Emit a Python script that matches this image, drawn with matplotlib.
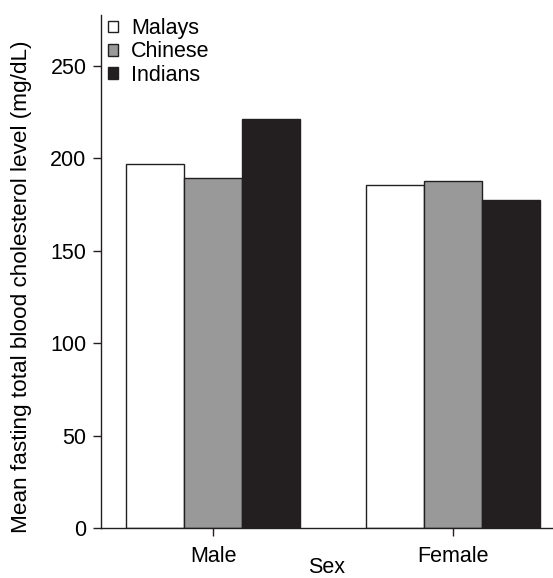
import numpy as np
import matplotlib
matplotlib.use('Agg')
import matplotlib.pyplot as plt

plt.rcParams['font.family'] = ['Liberation Sans', 'DejaVu Sans']

sexes = ['Male', 'Female']
groups = ['Malays', 'Chinese', 'Indians']
malays = [197, 185.5]
chinese = [189.5, 188]
indians = [221.5, 177.5]
colors = ['white', '#999999', '#231f20']
ecol = '#231f20'
fs = 15.5

fig = plt.figure(figsize=(5.53, 5.78), dpi=100)
ax = fig.add_axes([0.1826, 0.086, 0.8174, 0.888])

x = np.arange(len(sexes))
w = 0.242
for i, (name, vals) in enumerate(zip(groups, [malays, chinese, indians])):
    ax.bar(x + (i - 1) * w, vals, width=w, color=colors[i], edgecolor=ecol,
           linewidth=1.0, label=name)

ax.set_xlim(-0.468, 1.417)
ax.set_ylim(0, 277.5)
ax.set_yticks([0, 50, 100, 150, 200, 250])
ax.set_xticks(x)
ax.set_xticklabels(sexes)
ax.spines['top'].set_visible(False)
ax.spines['right'].set_visible(False)
for s in ['left', 'bottom']:
    ax.spines[s].set_color(ecol)
    ax.spines[s].set_linewidth(1.0)
ax.tick_params(direction='out', width=1, color=ecol, labelsize=fs)
ax.tick_params(axis='x', length=6, pad=7)
ax.tick_params(axis='y', length=5.5, pad=5)
ax.set_xlabel('Sex', fontsize=fs, labelpad=-7.5)
ax.set_ylabel('Mean fasting total blood cholesterol level (mg/dL)', fontsize=16.2)
ax.yaxis.set_label_coords(-0.152, 0.47)

leg = ax.legend(loc='upper left', bbox_to_anchor=(0.009, 1.0), frameon=False,
                fontsize=fs, handlelength=0.45, handleheight=0.45,
                handletextpad=0.6, labelspacing=0.1, borderaxespad=0.0,
                borderpad=0.15)

fig.savefig('out.png', dpi=100)
